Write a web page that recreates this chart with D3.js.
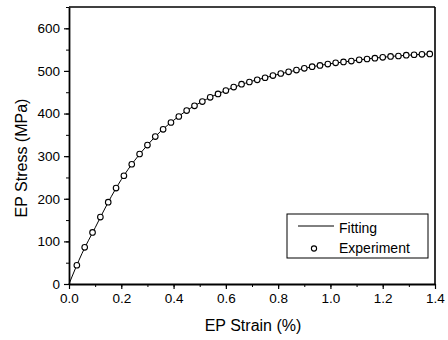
<!DOCTYPE html>
<html>
<head>
<meta charset="utf-8">
<script src="https://cdn.jsdelivr.net/npm/d3@7"></script>
<style>
html,body{margin:0;padding:0;background:#fff;}
svg{display:block;font-family:"Liberation Sans",Arial,Helvetica,sans-serif;}
</style>
</head>
<body>
<svg id="chart" width="448" height="340"></svg>
<script>
// Experimental data (EP strain %, EP stress MPa)
const expStrain = [0.03,0.06,0.09,0.12,0.15,0.18,0.21,0.24,0.27,0.30,0.33,0.36,0.39,0.42,0.45,0.48,0.51,0.54,0.57,0.60,0.63,0.66,0.69,0.72,0.75,0.78,0.81,0.84,0.87,0.90,0.93,0.96,0.99,1.02,1.05,1.08,1.11,1.14,1.17,1.20,1.23,1.26,1.29,1.32,1.35,1.38];
const expStress = [44,86,121,157,192,225,254,281,305,326,346,363,379,393,407,418,428,438,446,454,462,469,474,479,484,489,494,498,502,506,510,513,516,519,521,523,526,528,530,532,534,535,537,538,539,540];

// Fitting curve
const fitStrain = [0,0.05,0.10,0.15,0.20,0.25,0.30,0.35,0.40,0.45,0.50,0.55,0.60,0.65,0.70,0.75,0.80,0.85,0.90,0.95,1.00,1.05,1.10,1.15,1.20,1.25,1.30,1.35,1.38];
const fitStress = [0,72,132,192,245,289,326,358,384,407,425,441,454,466,476,484,492,499,506,512,517,521,525,529,532,535,537,539,540];

const xTicks = [0.0,0.2,0.4,0.6,0.8,1.0,1.2,1.4];
const yTicks = [0,100,200,300,400,500,600];
const legendLabels = ["Fitting","Experiment"];

const svg = d3.select("#chart");
const L = 69, R = 435, T = 7, B = 284;
const x = d3.scaleLinear().domain([0,1.4]).range([L,R]);
const y = d3.scaleLinear().domain([0,650]).range([B,T]);

// minor ticks
const xMinor = d3.range(0,1.41,0.1);
const yMinor = d3.range(0,651,50);
svg.append("g").attr("transform",`translate(0,${B})`)
  .call(d3.axisBottom(x).tickValues(xMinor).tickSize(3).tickFormat(""))
  .call(g=>g.select(".domain").remove());
svg.append("g").attr("transform",`translate(${L},0)`)
  .call(d3.axisLeft(y).tickValues(yMinor).tickSize(3).tickFormat(""))
  .call(g=>g.select(".domain").remove());

// major axes
const xa = svg.append("g").attr("transform",`translate(0,${B})`)
  .call(d3.axisBottom(x).tickValues(xTicks).tickSize(5).tickSizeOuter(0).tickPadding(4).tickFormat(d3.format(".1f")));
const ya = svg.append("g").attr("transform",`translate(${L},0)`)
  .call(d3.axisLeft(y).tickValues(yTicks).tickSize(5).tickSizeOuter(0).tickPadding(4).tickFormat(d3.format("d")));
[xa,ya].forEach(g=>{
  g.select(".domain").attr("stroke","#000").attr("stroke-width",1.8);
  g.selectAll(".tick line").attr("stroke","#000").attr("stroke-width",1.2);
  g.selectAll(".tick text").attr("fill","#000").attr("font-size",13.5)
   .attr("font-family","'Liberation Sans',Arial,sans-serif");
});

// top & right frame
svg.append("line").attr("x1",L).attr("x2",R).attr("y1",T).attr("y2",T).attr("stroke","#000").attr("stroke-width",1.6);
svg.append("line").attr("x1",R).attr("x2",R).attr("y1",T).attr("y2",B).attr("stroke","#000").attr("stroke-width",1.6);

// fitting line
const fitData = fitStrain.map((s,i)=>[s,fitStress[i]]);
svg.append("path").datum(fitData)
  .attr("fill","none").attr("stroke","#000").attr("stroke-width",1)
  .attr("d",d3.line().x(d=>x(d[0])).y(d=>y(d[1])).curve(d3.curveMonotoneX));

// experiment points
const expData = expStrain.map((s,i)=>[s,expStress[i]]);
svg.append("g").selectAll("circle").data(expData).join("circle")
  .attr("cx",d=>x(d[0])).attr("cy",d=>y(d[1])).attr("r",2.8)
  .attr("fill","#fff").attr("stroke","#000").attr("stroke-width",1.1);

// axis titles
svg.append("text").attr("x",253).attr("y",331).attr("text-anchor","middle")
  .attr("font-size",16).attr("fill","#000").text("EP Strain (%)");
svg.append("text").attr("transform",`translate(27,158) rotate(-90)`).attr("text-anchor","middle")
  .attr("font-size",16).attr("fill","#000").text("EP Stress (MPa)");

// legend
const lg = svg.append("g");
lg.append("rect").attr("x",287).attr("y",214).attr("width",141).attr("height",44)
  .attr("fill","#fff").attr("stroke","#000").attr("stroke-width",1);
lg.append("line").attr("x1",298).attr("x2",334).attr("y1",226).attr("y2",226).attr("stroke","#000").attr("stroke-width",1);
lg.append("text").attr("x",339).attr("y",233).attr("font-size",14).attr("fill","#000").text(legendLabels[0]);
lg.append("circle").attr("cx",314).attr("cy",248.5).attr("r",2.6).attr("fill","#fff").attr("stroke","#000").attr("stroke-width",1.1);
lg.append("text").attr("x",339).attr("y",253).attr("font-size",14).attr("fill","#000").text(legendLabels[1]);
</script>
</body>
</html>
